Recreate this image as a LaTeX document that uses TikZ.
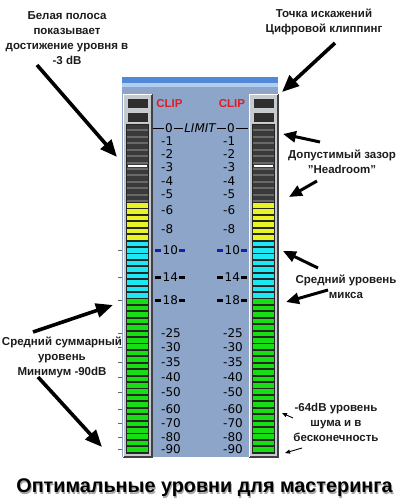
\documentclass[tikz,border=0pt]{standalone}
\usepackage{fontspec}
\setmainfont{Liberation Sans}
\newfontfamily\meterfont{DejaVu Sans}
\usetikzlibrary{arrows.meta}

\definecolor{panelblue}{RGB}{141,165,201}
\definecolor{barblue}{RGB}{82,136,214}
\definecolor{barlight}{RGB}{178,206,238}
\definecolor{framegrey}{RGB}{196,202,208}
\definecolor{segdark}{RGB}{58,58,58}
\definecolor{seggap}{RGB}{105,105,105}
\definecolor{segyellow}{RGB}{232,244,36}
\definecolor{segcyan}{RGB}{28,232,244}
\definecolor{seggreen}{RGB}{22,222,18}
\definecolor{clipred}{RGB}{222,30,36}
\definecolor{notegrey}{RGB}{28,28,28}
\definecolor{marknavy}{RGB}{22,30,170}

\tikzset{
  note/.style={font=\fontsize{11.5}{15}\selectfont\bfseries, text=notegrey, align=center, inner sep=0pt},
  scalelbl/.style={font=\meterfont\fontsize{12}{12}\selectfont, anchor=west, inner sep=0pt},
  cliplbl/.style={font=\fontsize{11.5}{12}\selectfont\bfseries, text=clipred, inner sep=0pt},
  bigarrow/.style={line width=3.6pt, -{Triangle[length=17pt,width=14pt]}},
  midarrow/.style={line width=3pt, -{Triangle[length=13pt,width=11pt]}},
  thinarrow/.style={line width=0.9pt, -{Triangle[length=5pt,width=4pt]}}
}

\begin{document}
\begin{tikzpicture}[x=1pt, y=-1pt]
\useasboundingbox (0,0) rectangle (400,504);

% panel
\fill[panelblue] (122,77) rectangle (278,457);
\fill[barblue] (122,77) rectangle (278,83);
\fill[barlight] (122,83) rectangle (278,87);
\foreach \ty in {250,277,300,333,347,362,377,392,409,423,437,449}
  \draw[black!60, line width=1pt] (118,\ty) -- (122,\ty);

% meters
\foreach \mx in {127,253} {
  \fill[framegrey] (\mx-4,94) rectangle (\mx+25,457);
  \draw[black!75, line width=1.6pt] (\mx+25,94) -- (\mx+25,457) -- (\mx-4,457);
  \draw[white, line width=0.8pt] (\mx-4,457) -- (\mx-4,94) -- (\mx+25,94);
  % clip boxes
  \fill[segdark!80!black] (\mx,98) rectangle (\mx+21,108);
  \fill[segdark!80!black] (\mx,112) rectangle (\mx+21,122);
  \draw[white!80!black, line width=0.8pt] (\mx,98) rectangle (\mx+21,108);
  \draw[white!80!black, line width=0.8pt] (\mx,112) rectangle (\mx+21,122);
  % column
  \fill[black!85] (\mx-1,124) rectangle (\mx+22,454);
  \fill[seggap] (\mx,125) rectangle (\mx+21,202);
  \foreach \i in {0,...,11}
    \fill[segdark] (\mx,125+\i*6.43) rectangle ++(21,4.4);
  \fill[white] (\mx+1,164.6) rectangle ++(19,2.8);
  \foreach \i in {12,...,17}
    \fill[segyellow] (\mx,125.8+\i*6.43) rectangle ++(21,4.6);
  \foreach \i in {18,...,26}
    \fill[segcyan] (\mx,125.8+\i*6.43) rectangle ++(21,4.6);
  \foreach \i in {27,...,50}
    \fill[seggreen] (\mx,125.8+\i*6.43) rectangle ++(21,4.6);
}

% clip labels
\node[cliplbl] (clipL) at (169.5,104) {CLIP};
\node[cliplbl] (clipR) at (232,104) {CLIP};

% limit line
\node[scalelbl, anchor=center] (zeroL) at (169,128) {0};
\node[scalelbl, anchor=center] (limit) at (200,128) {\itshape LIMIT};
\node[scalelbl, anchor=center] (zeroR) at (231,128) {0};
\draw[line width=1pt] (153,128) -- ([xshift=-1pt]zeroL.west);
\draw[line width=1pt] ([xshift=1pt]zeroL.east) -- ([xshift=-1pt]limit.west);
\draw[line width=1pt] ([xshift=1pt]limit.east) -- ([xshift=-1pt]zeroR.west);
\draw[line width=1pt] ([xshift=1pt]zeroR.east) -- (248,128);

% scale
\foreach \ly/\lt in {141/-1,154/-2,167/-3,181/-4,194/-5,210/-6,229/-8,
    333/-25,347/-30,362/-35,377/-40,392/-50,409/-60,423/-70,437/-80,449/-90} {
  \node[scalelbl] (sl\ly) at (161,\ly) {\lt};
  \node[scalelbl] (sr\ly) at (223,\ly) {\lt};
}
\foreach \ly/\lt/\mc in {250/10/marknavy,277/14/black,300/18/black} {
  \fill[\mc] (155,\ly-1.5) rectangle ++(6,3);
  \fill[\mc] (179,\ly-1.5) rectangle ++(6,3);
  \fill[\mc] (217,\ly-1.5) rectangle ++(6,3);
  \fill[\mc] (241,\ly-1.5) rectangle ++(6,3);
  \node[scalelbl] (sl\ly) at (162.5,\ly) {\lt};
  \node[scalelbl] (sr\ly) at (224.5,\ly) {\lt};
}

% notes
\node[note] (white) at (67,38.5) {Белая полоса\\показывает\\достижение уровня в\\-3 dB};
\node[note] (clip) at (324,22) {Точка искажений\\Цифровой клиппинг};
\node[note] (headroom) at (342,162) {Допустимый зазор\\"Headroom"};
\node[note] (mix) at (346,287) {Средний уровень\\микса};
\node[note] (average) at (62,357) {Средний суммарный\\уровень\\Минимум -90dB};
\node[note] (noise) at (336,422) {-64dB уровень\\шума и в\\бесконечность};

\node[font=\fontsize{19.8}{20}\selectfont\bfseries, text=black!35, inner sep=0pt] (titleshadow) at (205.5,489.5) {Оптимальные уровни для мастеринга};
\node[font=\fontsize{19.8}{20}\selectfont\bfseries, text=black, inner sep=0pt] (title) at (204.5,488) {Оптимальные уровни для мастеринга};

% arrows
\coordinate (a1s) at (37,65);   \coordinate (a1t) at (117,157);
\coordinate (a2s) at (335,43);  \coordinate (a2t) at (282,92);
\coordinate (a3s) at (320,142); \coordinate (a3t) at (283,134);
\coordinate (a4s) at (317,181); \coordinate (a4t) at (289,197);
\coordinate (a5s) at (318,268); \coordinate (a5t) at (283,251);
\coordinate (a6s) at (328,290); \coordinate (a6t) at (286,302);
\coordinate (a7s) at (33,332);  \coordinate (a7t) at (113,305);
\coordinate (a8s) at (38,377);  \coordinate (a8t) at (102,447);
\coordinate (a9s) at (293,418); \coordinate (a9t) at (282,413);
\coordinate (a10s) at (302,448); \coordinate (a10t) at (285,453);

\draw[bigarrow] (a1s) -- (a1t);
\draw[bigarrow] (a2s) -- (a2t);
\draw[midarrow] (a3s) -- (a3t);
\draw[midarrow] (a4s) -- (a4t);
\draw[midarrow] (a5s) -- (a5t);
\draw[midarrow] (a6s) -- (a6t);
\draw[bigarrow] (a7s) -- (a7t);
\draw[bigarrow] (a8s) -- (a8t);
\draw[thinarrow] (a9s) -- (a9t);
\draw[thinarrow] (a10s) -- (a10t);

\end{tikzpicture}
\end{document}
